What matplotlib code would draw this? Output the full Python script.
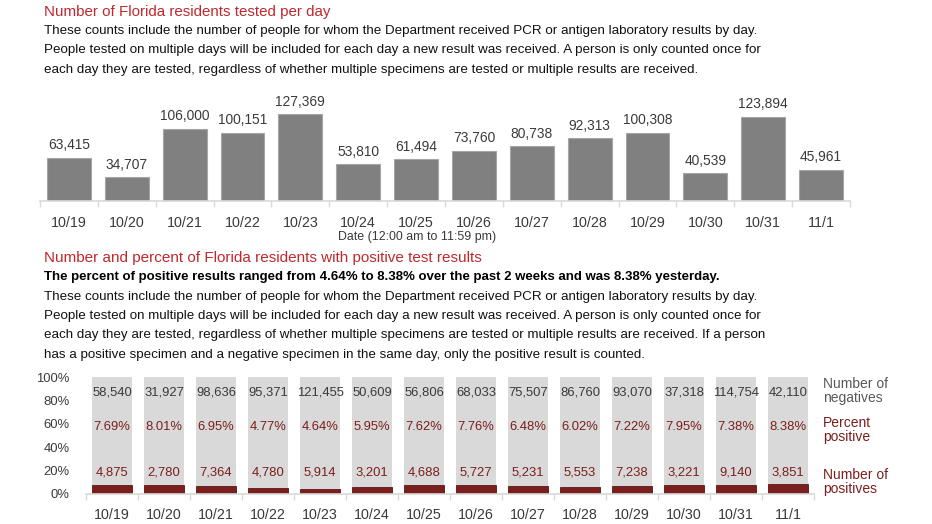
import matplotlib
matplotlib.use("Agg")
import matplotlib.pyplot as plt

dates = ["10/19", "10/20", "10/21", "10/22", "10/23", "10/24", "10/25",
         "10/26", "10/27", "10/28", "10/29", "10/30", "10/31", "11/1"]
tested = [63415, 34707, 106000, 100151, 127369, 53810, 61494,
          73760, 80738, 92313, 100308, 40539, 123894, 45961]
negatives = [58540, 31927, 98636, 95371, 121455, 50609, 56806,
             68033, 75507, 86760, 93070, 37318, 114754, 42110]
positives = [4875, 2780, 7364, 4780, 5914, 3201, 4688,
             5727, 5231, 5553, 7238, 3221, 9140, 3851]
pct_positive = [7.69, 8.01, 6.95, 4.77, 4.64, 5.95, 7.62,
                7.76, 6.48, 6.02, 7.22, 7.95, 7.38, 8.38]

plt.rcParams["font.family"] = ["Liberation Sans", "DejaVu Sans"]

W, H = 932, 524
fig = plt.figure(figsize=(W / 100, H / 100), dpi=100)

def px(x, y):
    return x / W, 1 - y / H

RED_T = "#c0282d"
DARK = "#3a3a3a"
MAROON = "#7a1f1d"

# Header texts
fig.text(*px(44, 12), "Number of Florida residents tested per day", color=RED_T,
         fontsize=10.9, va="center", ha="left")
para1 = ["These counts include the number of people for whom the Department received PCR or antigen laboratory results by day.",
         "People tested on multiple days will be included for each day a new result was received. A person is only counted once for",
         "each day they are tested, regardless of whether multiple specimens are tested or multiple results are received."]
for i, line in enumerate(para1):
    fig.text(*px(44, 31 + i * 19.5), line, color="#111111", fontsize=9.6, va="center", ha="left")

# Top chart
ax1 = fig.add_axes([40 / W, 1 - 201 / H, 810 / W, 102 / H])
x = list(range(len(dates)))
ax1.bar(x, tested, width=0.76, color="#808080", edgecolor="#a6a6a6", linewidth=0.8)
for xi, v in zip(x, tested):
    ax1.annotate(f"{v:,}", (xi, v), xytext=(0, 4), textcoords="offset points",
                 ha="center", va="bottom", fontsize=9.9, color=DARK)
ax1.set_xlim(-0.5, len(dates) - 0.5)
ax1.set_ylim(0, 150000)
ax1.set_yticks([])
ax1.set_xticks([i - 0.5 for i in range(len(dates) + 1)], minor=False)
ax1.set_xticklabels([])
ax1.tick_params(axis="x", length=4, color="#d9d9d9", width=1)
ax1.set_xticks(x, minor=True)
ax1.set_xticklabels(dates, minor=True, fontsize=10.3, color=DARK)
ax1.tick_params(axis="x", which="minor", length=0, pad=11)
for s in ["top", "right", "left"]:
    ax1.spines[s].set_visible(False)
ax1.spines["bottom"].set_color("#d9d9d9")
ax1.spines["bottom"].set_linewidth(1.2)
fig.text(*px(417, 237), "Date (12:00 am to 11:59 pm)", color=DARK, fontsize=8.9,
         ha="center", va="center")

# Second header
fig.text(*px(44, 258), "Number and percent of Florida residents with positive test results",
         color=RED_T, fontsize=11, va="center", ha="left")
fig.text(*px(44, 277), "The percent of positive results ranged from 4.64% to 8.38% over the past 2 weeks and was 8.38% yesterday.",
         color="#000000", fontsize=9.55, fontweight="bold", va="center", ha="left")
para2 = ["These counts include the number of people for whom the Department received PCR or antigen laboratory results by day.",
         "People tested on multiple days will be included for each day a new result was received. A person is only counted once for",
         "each day they are tested, regardless of whether multiple specimens are tested or multiple results are received. If a person",
         "has a positive specimen and a negative specimen in the same day, only the positive result is counted."]
for i, line in enumerate(para2):
    fig.text(*px(44, 297 + i * 19.2), line, color="#111111", fontsize=9.6, va="center", ha="left")

# Bottom chart
ax2 = fig.add_axes([86 / W, 1 - 494 / H, 728 / W, 117 / H])
rest = [100 - p for p in pct_positive]
ax2.bar(x, pct_positive, width=0.77, color=MAROON, edgecolor="#5a1412", linewidth=0.6)
ax2.bar(x, rest, bottom=pct_positive, width=0.77, color="#d9d9d9", linewidth=0)
for xi, n, p, q in zip(x, negatives, pct_positive, positives):
    ax2.text(xi, 87, f"{n:,}", ha="center", va="center", fontsize=9.4, color=DARK)
    ax2.text(xi, 57, f"{p:.2f}%", ha="center", va="center", fontsize=9.4, color=MAROON)
    ax2.text(xi, 18.5, f"{q:,}", ha="center", va="center", fontsize=9.4, color=MAROON)
ax2.set_xlim(-0.5, len(dates) - 0.5)
ax2.set_ylim(0, 100)
ax2.set_yticks([0, 20, 40, 60, 80, 100])
ax2.set_yticklabels([f"{v}%" for v in [0, 20, 40, 60, 80, 100]], fontsize=9.4, color=DARK)
ax2.tick_params(axis="y", length=0, pad=12)
ax2.set_xticks([i - 0.5 for i in range(len(dates) + 1)])
ax2.set_xticklabels([])
ax2.tick_params(axis="x", length=4, color="#d9d9d9", width=1)
ax2.set_xticks(x, minor=True)
ax2.set_xticklabels(dates, minor=True, fontsize=10.3, color=DARK)
ax2.tick_params(axis="x", which="minor", length=0, pad=10)
for s in ["top", "right", "left"]:
    ax2.spines[s].set_visible(False)
ax2.spines["bottom"].set_color("#d9d9d9")
ax2.spines["bottom"].set_linewidth(1.2)

fig.text(*px(823, 391), "Number of\nnegatives", color="#595959", fontsize=10,
         ha="left", va="center", linespacing=1.05)
fig.text(*px(823, 430), "Percent\npositive", color=MAROON, fontsize=10,
         ha="left", va="center", linespacing=1.05)
fig.text(*px(823, 482), "Number of\npositives", color=MAROON, fontsize=10,
         ha="left", va="center", linespacing=1.05)

fig.savefig("out.png", dpi=100)
